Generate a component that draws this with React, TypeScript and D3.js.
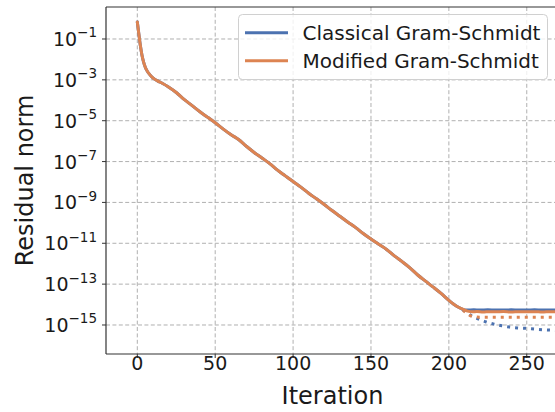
import React from "react";
import * as d3 from "d3";

// Shared descent (both methods coincide until ~iteration 210)
const sharedIter = [0, 1, 2, 3, 4, 5, 6, 8, 10, 13, 16, 20, 25, 30, 35, 40, 45, 50, 55, 60, 65, 70, 75, 80, 85, 90, 95, 100, 105, 110, 115, 120, 125, 130, 135, 140, 145, 150, 155, 160, 165, 170, 175, 180, 185, 190, 195, 200, 205, 208, 210];
const sharedRes = [6.8e-1, 1.7e-1, 4.5e-2, 1.6e-2, 7.6e-3, 4.4e-3, 3.0e-3, 1.8e-3, 1.26e-3, 8.9e-4, 6.8e-4, 4.5e-4, 2.4e-4, 1.1e-4, 5.6e-5, 2.8e-5, 1.5e-5, 7.9e-6, 4.0e-6, 2.1e-6, 1.2e-6, 5.6e-7, 2.8e-7, 1.5e-7, 7.9e-8, 3.8e-8, 2.0e-8, 1.05e-8, 5.6e-9, 2.8e-9, 1.5e-9, 7.9e-10, 4.0e-10, 2.1e-10, 1.1e-10, 6.0e-11, 3.0e-11, 1.6e-11, 8.9e-12, 5.0e-12, 2.4e-12, 1.26e-12, 6.3e-13, 2.8e-13, 1.4e-13, 7.1e-14, 3.5e-14, 1.6e-14, 8.3e-15, 6.3e-15, 5.5e-15];

// Tails after stagnation
const cgsTailIter = [212, 216, 220, 225, 230, 235, 240, 245, 250, 255, 260, 265, 272, 280];
const cgsTailRes = [5.4e-15, 5.5e-15, 5.4e-15, 5.5e-15, 5.4e-15, 5.4e-15, 5.5e-15, 5.4e-15, 5.4e-15, 5.5e-15, 5.4e-15, 5.4e-15, 5.4e-15, 5.5e-15];
const mgsTailIter = [212, 215, 218, 222, 226, 230, 235, 240, 245, 250, 255, 260, 265, 272, 280];
const mgsTailRes = [4.8e-15, 4.4e-15, 4.6e-15, 4.3e-15, 4.5e-15, 4.4e-15, 4.6e-15, 4.3e-15, 4.5e-15, 4.4e-15, 4.5e-15, 4.3e-15, 4.5e-15, 4.4e-15, 4.4e-15];

// Dotted (true residual) curves
const cgsDotIter = [209, 212, 214, 218, 224, 229, 234, 239, 244, 250, 255, 260, 266, 272, 280];
const cgsDotRes = [5.6e-15, 4.0e-15, 3.0e-15, 2.1e-15, 1.4e-15, 1.1e-15, 9.1e-16, 7.9e-16, 7.2e-16, 6.8e-16, 6.3e-16, 5.9e-16, 5.6e-16, 5.2e-16, 4.9e-16];
const mgsDotIter = [209, 212, 215, 220, 230, 240, 250, 260, 270, 280];
const mgsDotRes = [5.4e-15, 3.5e-15, 2.6e-15, 2.4e-15, 2.4e-15, 2.4e-15, 2.4e-15, 2.4e-15, 2.4e-15, 2.4e-15];

const xTicks = [0, 50, 100, 150, 200, 250];
const yTickExps = [-1, -3, -5, -7, -9, -11, -13, -15];
const seriesNames = ["Classical Gram-Schmidt", "Modified Gram-Schmidt"];
const colors = ["#4c72b0", "#dd8452"];

const W = 555, H = 412;
const L = 106, R = 559, T = 7, B = 354;

export default function App() {
  const x = d3.scaleLinear().domain([-20.1, 270.7]).range([L, R]);
  const y = d3.scaleLog().domain([Math.pow(10, 0.566), Math.pow(10, -16.42)]).range([T, B]);
  const line = d3.line<[number, number]>().x(d => x(d[0])).y(d => y(d[1])).curve(d3.curveMonotoneX);
  const zip = (a: number[], b: number[]) => a.map((v, i) => [v, b[i]] as [number, number]);
  const shared = zip(sharedIter, sharedRes);
  const cgs = shared.concat(zip(cgsTailIter, cgsTailRes));
  const mgs = shared.concat(zip(mgsTailIter, mgsTailRes));
  const cgsDot = zip(cgsDotIter, cgsDotRes);
  const mgsDot = zip(mgsDotIter, mgsDotRes);
  const font = "DejaVu Sans, sans-serif";
  const gridStyle = { stroke: "#b0b0b0", strokeWidth: 1, strokeDasharray: "4 2.4" };

  return (
    <svg width={W} height={H} style={{ position: "fixed", left: 0, top: 0, background: "#fff" }} fontFamily={font}>
      <defs>
        <clipPath id="plot"><rect x={L} y={T} width={R - L} height={B - T} /></clipPath>
      </defs>
      <rect x={0} y={0} width={W} height={H} fill="#fff" />
      <g>
        {xTicks.map(t => (
          <line key={"gx" + t} x1={x(t)} x2={x(t)} y1={T} y2={B} {...gridStyle} />
        ))}
        {yTickExps.map(e => (
          <line key={"gy" + e} x1={L} x2={R} y1={y(Math.pow(10, e))} y2={y(Math.pow(10, e))} {...gridStyle} />
        ))}
      </g>
      <g clipPath="url(#plot)" fill="none">
        <path d={line(cgsDot) || ""} stroke={colors[0]} strokeWidth={3} strokeDasharray="3 5" />
        <path d={line(mgsDot) || ""} stroke={colors[1]} strokeWidth={3} strokeDasharray="3 5" />
        <path d={line(cgs) || ""} stroke={colors[0]} strokeWidth={3} strokeLinejoin="round" strokeLinecap="round" />
        <path d={line(mgs) || ""} stroke={colors[1]} strokeWidth={3} strokeLinejoin="round" strokeLinecap="round" />
      </g>
      {/* spines */}
      <line x1={L} x2={L} y1={T} y2={B} stroke="#333" strokeWidth={1.2} />
      <line x1={L} x2={R} y1={B} y2={B} stroke="#333" strokeWidth={1.2} />
      <line x1={L} x2={R} y1={T} y2={T} stroke="#333" strokeWidth={1.2} />
      {/* x ticks */}
      {xTicks.map(t => (
        <g key={"xt" + t}>
          <line x1={x(t)} x2={x(t)} y1={B} y2={B + 4} stroke="#333" strokeWidth={1} />
          <text x={x(t)} y={369.5} textAnchor="middle" fontSize={19} fill="#1a1a1a">{t}</text>
        </g>
      ))}
      {/* y ticks */}
      {yTickExps.map(e => {
        const yy = y(Math.pow(10, e));
        return (
          <g key={"yt" + e}>
            <line x1={L - 4} x2={L} y1={yy} y2={yy} stroke="#333" strokeWidth={1} />
            <text x={97} y={yy + 7} textAnchor="end" fontSize={19} fill="#1a1a1a">
              10<tspan fontSize={13.5} dy={-8.5}>{"\u2212" + Math.abs(e)}</tspan>
            </text>
          </g>
        );
      })}
      <text x={(L + R) / 2} y={404} textAnchor="middle" fontSize={24} fill="#1a1a1a">Iteration</text>
      <text transform={`translate(33, ${(T + B) / 2}) rotate(-90)`} textAnchor="middle" fontSize={24} fill="#1a1a1a">Residual norm</text>
      {/* legend */}
      <g>
        <rect x={238.5} y={14.5} width={309} height={65} rx={4} fill="#fff" fillOpacity={0.8} stroke="#d0d0d0" strokeWidth={1} />
        {seriesNames.map((n, i) => (
          <g key={n}>
            <line x1={245} x2={288} y1={32.7 + i * 28} y2={32.7 + i * 28} stroke={colors[i]} strokeWidth={3} />
            <text x={302.5} y={40 + i * 28} fontSize={20} fill="#1a1a1a">{n}</text>
          </g>
        ))}
      </g>
    </svg>
  );
}
